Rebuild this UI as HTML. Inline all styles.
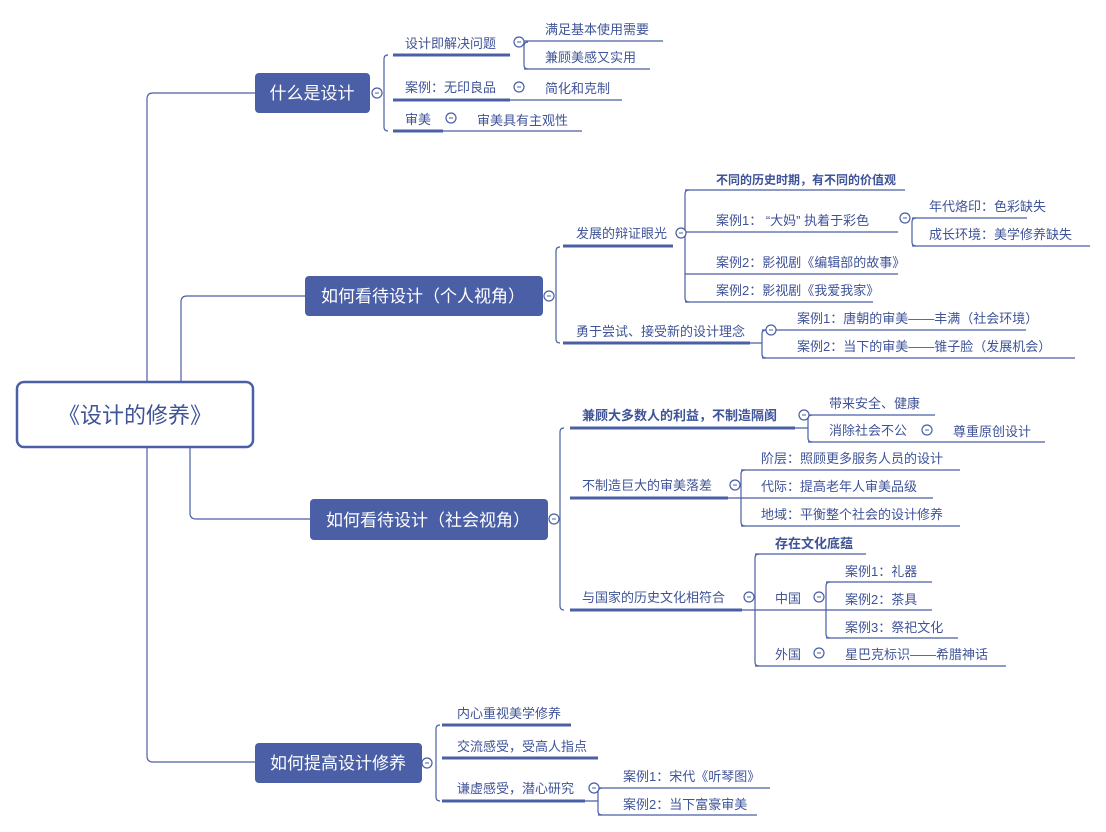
<!DOCTYPE html>
<html><head><meta charset="utf-8"><style>
html,body{margin:0;padding:0;background:#fff;width:1106px;height:832px;overflow:hidden}
svg text{font-family:"Liberation Sans","Noto Sans CJK SC",sans-serif;fill:#3f5398;font-size:13px}
.w{fill:#fff!important;font-size:17px!important}
.b{font-weight:bold}
</style></head><body>
<svg width="1106" height="832" viewBox="0 0 1106 832" xmlns="http://www.w3.org/2000/svg">
<g fill="none" stroke="#4a5fa5" stroke-width="1.2">
<path d="M147 382 V99 Q147 93 153 93 H255"/>
<path d="M181 382 V302 Q181 296 187 296 H305"/>
<path d="M190 447 V513 Q190 519 196 519 H310"/>
<path d="M147 447 V756 Q147 762 153 762 H255"/>
<path d="M388 55 Q384 55 384 59 V127 Q384 131 388 131"/>
<path d="M528 42 Q524 42 524 46 V65 Q524 69 528 69"/>
<path d="M560 247 Q556 247 556 251 V339 Q556 343 560 343"/>
<path d="M689 190 Q685 190 685 194 V298 Q685 302 689 302"/>
<path d="M916 218 Q912 218 912 222 V242 Q912 246 916 246"/>
<path d="M766 330 Q762 330 762 334 V354 Q762 358 766 358"/>
<path d="M564 428 Q560 428 560 432 V606 Q560 610 564 610"/>
<path d="M812 415 Q808 415 808 419 V438 Q808 442 812 442"/>
<path d="M745 470 Q741 470 741 474 V522 Q741 526 745 526"/>
<path d="M759 554 Q755 554 755 558 V662 Q755 666 759 666"/>
<path d="M830 582 Q826 582 826 586 V634 Q826 638 830 638"/>
<path d="M440 725 Q436 725 436 729 V797 Q436 801 440 801"/>
<path d="M602 788 Q598 788 598 792 V811 Q598 815 602 815"/>
<path d="M524 41 H663 M524 69 H650 M510 100 H622 M443 131 H582"/>
<path d="M685 190 H905 M685 232 H898 M912 218 H1027 M912 246 H1090 M685 274 H898 M685 302 H873"/>
<path d="M750 343 H762 M762 330 H1026 M762 358 H1075"/>
<path d="M795 428 H808 M808 415 H935 M808 442 H1045"/>
<path d="M741 470 H960 M728 498 H933 M741 526 H960"/>
<path d="M742 610 H826 M755 554 H866 M826 582 H932 M826 610 H932 M826 638 H958 M755 666 H1006"/>
<path d="M585 801 H598 M598 788 H770 M598 815 H757"/>
<g fill="#fff"><circle cx="377" cy="93" r="5"/><circle cx="519" cy="42" r="5"/><circle cx="519" cy="87" r="5"/><circle cx="451" cy="118" r="5"/>
<circle cx="549" cy="296" r="5"/><circle cx="681" cy="233" r="5"/><circle cx="905" cy="218" r="5"/><circle cx="771" cy="330" r="5"/>
<circle cx="554" cy="519" r="5"/><circle cx="804" cy="415" r="5"/><circle cx="927" cy="430" r="5"/><circle cx="735" cy="485" r="5"/><circle cx="749" cy="597" r="5"/><circle cx="819" cy="597" r="5"/><circle cx="819" cy="653" r="5"/>
<circle cx="427" cy="763" r="5"/><circle cx="594" cy="788" r="5"/></g>
</g>
<g stroke="#4a5fa5" stroke-width="1"><path d="M375 93h4M517 42h4M517 87h4M449 118h4M547 296h4M679 233h4M903 218h4M769 330h4M552 519h4M802 415h4M925 430h4M733 485h4M747 597h4M817 597h4M817 653h4M425 763h4M592 788h4"/></g>
<g stroke="#4a5fa5" stroke-width="3">
<path d="M393 55 H510 M393 100 H510 M393 131 H443"/>
<path d="M563 246 H673 M563 343 H750"/>
<path d="M570 428 H795 M570 498 H728 M570 610 H742"/>
<path d="M442 725 H571 M442 758 H598 M442 801 H585"/>
</g>
<rect x="17" y="382" width="236" height="65" rx="7" fill="#fff" stroke="#4a5fa5" stroke-width="2.5"/>
<text x="135" y="423" text-anchor="middle" style="font-size:22px">《设计的修养》</text>
<g fill="#4a5fa5">
<rect x="255" y="73" width="115" height="40" rx="4"/>
<rect x="305" y="276" width="238" height="40" rx="4"/>
<rect x="310" y="499" width="238" height="41" rx="4"/>
<rect x="255" y="743" width="167" height="40" rx="4"/>
</g>
<text class="w" x="312" y="99" text-anchor="middle">什么是设计</text>
<text class="w" x="423" y="302" text-anchor="middle">如何看待设计（个人视角）</text>
<text class="w" x="428" y="526" text-anchor="middle">如何看待设计（社会视角）</text>
<text class="w" x="338" y="769" text-anchor="middle">如何提高设计修养</text>
<text x="405" y="48">设计即解决问题</text>
<text x="545" y="34">满足基本使用需要</text>
<text x="545" y="62">兼顾美感又实用</text>
<text x="405" y="92">案例：无印良品</text>
<text x="545" y="93">简化和克制</text>
<text x="405" y="124">审美</text>
<text x="477" y="125">审美具有主观性</text>
<text x="576" y="238">发展的辩证眼光</text>
<text class="b" x="716" y="184" style="font-size:12px">不同的历史时期，有不同的价值观</text>
<text x="716" y="225">案例1： “大妈” 执着于彩色</text>
<text x="929" y="211">年代烙印：色彩缺失</text>
<text x="929" y="239">成长环境：美学修养缺失</text>
<text x="716" y="267">案例2：影视剧《编辑部的故事》</text>
<text x="716" y="295">案例2：影视剧《我爱我家》</text>
<text x="576" y="336">勇于尝试、接受新的设计理念</text>
<text x="797" y="323">案例1：唐朝的审美——丰满（社会环境）</text>
<text x="797" y="351">案例2：当下的审美——锥子脸（发展机会）</text>
<text class="b" x="582" y="420">兼顾大多数人的利益，不制造隔阂</text>
<text x="829" y="408">带来安全、健康</text>
<text x="829" y="435">消除社会不公</text>
<text x="953" y="436">尊重原创设计</text>
<text x="582" y="490">不制造巨大的审美落差</text>
<text x="761" y="463">阶层：照顾更多服务人员的设计</text>
<text x="761" y="491">代际：提高老年人审美品级</text>
<text x="761" y="519">地域：平衡整个社会的设计修养</text>
<text x="582" y="602">与国家的历史文化相符合</text>
<text class="b" x="775" y="548">存在文化底蕴</text>
<text x="775" y="603">中国</text>
<text x="845" y="576">案例1：礼器</text>
<text x="845" y="604">案例2：茶具</text>
<text x="845" y="632">案例3：祭祀文化</text>
<text x="775" y="659">外国</text>
<text x="845" y="659">星巴克标识——希腊神话</text>
<text x="457" y="718">内心重视美学修养</text>
<text x="457" y="751">交流感受，受高人指点</text>
<text x="457" y="793">谦虚感受，潜心研究</text>
<text x="623" y="781">案例1：宋代《听琴图》</text>
<text x="623" y="809">案例2：当下富豪审美</text>
</svg>
</body></html>
